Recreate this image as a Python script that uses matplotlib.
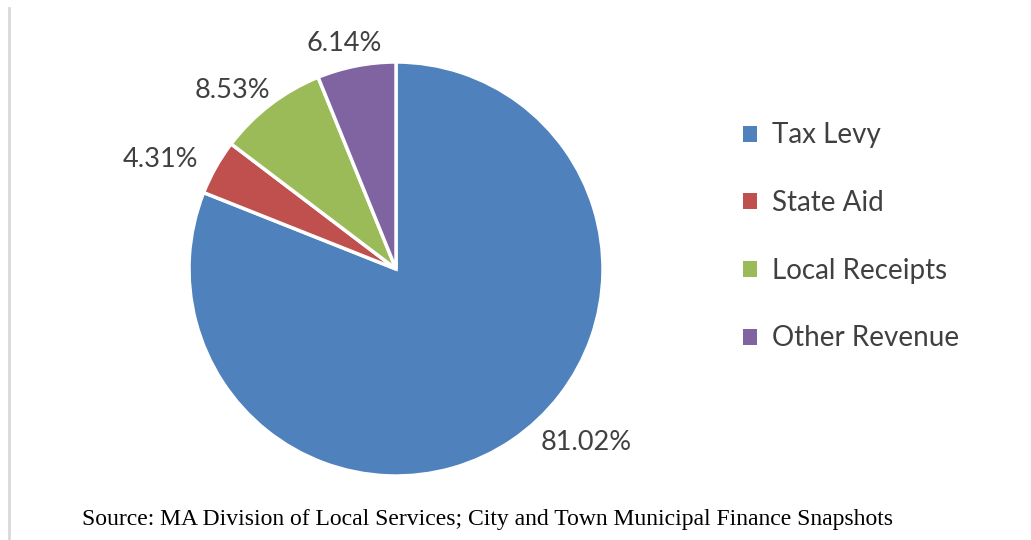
import matplotlib
matplotlib.use("Agg")
import matplotlib.pyplot as plt
from matplotlib.lines import Line2D
from matplotlib.patches import Patch

categories = ["Tax Levy", "State Aid", "Local Receipts", "Other Revenue"]
shares = [81.02, 4.31, 8.53, 6.14]
colors = ["#4F81BD", "#C0504D", "#9BBB59", "#8064A2"]
source = "Source: MA Division of Local Services; City and Town Municipal Finance Snapshots"

W, H = 1031, 540
fig = plt.figure(figsize=(W / 100, H / 100), dpi=100)
fig.patch.set_facecolor("white")

cx, cy, R = 396, 269, 207
ax = fig.add_axes([(cx - R) / W, (H - cy - R) / H, 2 * R / W, 2 * R / H])
wedges, texts, autotexts = ax.pie(
    shares, colors=colors, startangle=90, counterclock=False, radius=1.0,
    autopct=lambda p: f"{p:.2f}%", pctdistance=1.2,
    wedgeprops=dict(edgecolor="white", linewidth=2.5),
    textprops=dict(fontsize=19.5, color="#404040", family="Lato"))
ax.set_xlim(-1, 1)
ax.set_ylim(-1, 1)
ax.set_aspect("equal")
ax.axis("off")

# Excel-style label placement (layout positions, in radius units)
label_pos = [(0.92, -0.84), (-1.14, 0.53), (-0.79, 0.86), (-0.25, 1.09)]
for t, (x, y) in zip(autotexts, label_pos):
    t.set_position((x, y))
    t.set_ha("center")
    t.set_va("center")
    t.set_clip_on(False)

handles = [Patch(facecolor=c, edgecolor="none") for c in colors]
leg = fig.legend(handles, categories, loc="center left",
                 bbox_to_anchor=(718 / W, (H - 237) / H),
                 frameon=False, handlelength=0.5, handleheight=0.5,
                 handletextpad=0.55, labelspacing=1.5,
                 prop=dict(family="Lato", size=20))
for t in leg.get_texts():
    t.set_color("#404040")

fig.text(82 / W, (H - 519) / H, source, family="Liberation Serif",
         fontsize=17, color="black", ha="left", va="center")

fig.add_artist(Line2D([8.5 / W, 8.5 / W], [0, (H - 8) / H],
                      color="#d9d9d9", linewidth=2, transform=fig.transFigure))

fig.savefig("out.png", dpi=100)
